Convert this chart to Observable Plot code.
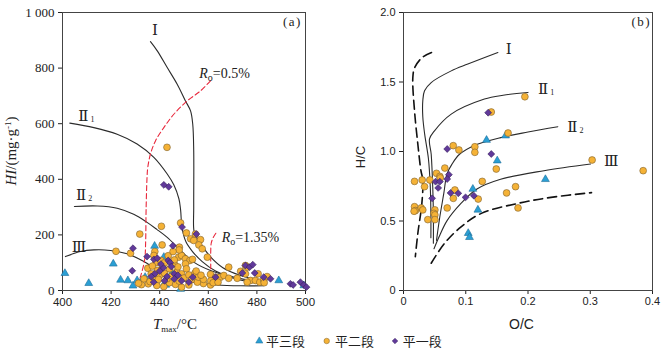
<!DOCTYPE html>
<html><head><meta charset="utf-8">
<script src="https://cdn.jsdelivr.net/npm/d3@7"></script>
<script src="https://cdn.jsdelivr.net/npm/@observablehq/plot@0.6"></script>
<style>
html,body{margin:0;padding:0;background:#fff;}
#wrap{position:relative;width:668px;height:352px;overflow:hidden;background:#fff;}
#pa,#pb,#lg{position:absolute;top:0;}
#pa{left:0;} #pb{left:334px;} #lg{left:0;top:331px;}
</style></head><body>
<div id="wrap"><div id="pa"></div><div id="pb"></div><div id="lg"></div></div>
<script>
// ---------- Panel (a): HI vs Tmax ----------
const aXTicks = [400, 420, 440, 460, 480, 500];
const aYTicks = [0, 200, 400, 600, 800, 1000];
// 平三段 (triangles)
const a3T  = [401,410.8,420.9,423.9,426.9,429,430.7,432,437.9,441.7,442,437,448.6,489,445,447,499.3,434,442.5];
const a3HI = [62,26,96,38,36,17,36,28,160,120,26,40,5,36,62,45,18,48,20];
// 平二段 (circles)
const a2T  = [443,422,431.8,428,440.7,448.6,451,452.7,454,454.7,456.8,456.1,457.5,459.6,441,438,437.6,448.1,447.8,449,448,450.6,452.4,450.6,453.5,
  460.9,463,465,466.4,468.4,468.4,471.9,473.3,475.3,475.3,476,477.4,479.4,481.2,482.8,484.2,480.5,476,483,
  460.9,458,455.5,452,449,446.5,444,441.7,438.8,435.3,432.5,431.3,433.5,436,
  435.1,436.5,437.6,439,440,441,442,443,444,445,446,447,448,449,450,451,452,453,454.5,456,458,438.5,440.5,443.5,445.5,442,446,437,439.5,447.5,455,457,461,462,464];
const a2HI = [515,141,203,134,231,243,207,186,180,203,183,164,150,120,164,140,126,156,120,126,146,114,108,96,112,
  58,48,48,54,84,44,44,69,90,60,84,36,36,30,38,50,60,30,28,
  20,25,30,20,12,22,28,14,18,24,21,26,42,32,
  80,60,48,72,55,90,62,42,78,52,96,68,34,60,45,78,56,38,62,48,40,100,108,125,140,100,110,88,40,85,70,55,35,28,30];
// 平一段 (diamonds)
const a1T  = [441.7,443.7,449.2,455.1,429,428.7,434.8,437.6,439,445.4,443.5,444.3,441.5,440,438,436.5,443,446,447.5,449,452,453.6,463,474,475.3,477,478.3,479.1,482.8,485.6,493.8,494.9,497.9,499.3,500.4,442,446,440.5,444.8,437.5];
const a1HI = [380,373,228,203,152,71,122,112,116,161,108,100,82,70,60,50,50,60,55,35,30,48,48,63,90,84,93,63,48,42,24,20,30,20,12,35,42,95,86,30];
// kerogen type curves (a)
const aI_T   = [436.2,439,443.1,447.2,450.6,452.7,453.6,454,454,454.1,455,457.5,461,466,473,484];
const aI_HI  = [895,862,802,742,682,646,598,503,300,215,195,160,120,82,55,32];
const aII1_T  = [403,412.9,422.5,430.7,437.6,443.1,445.8,447.9,448.6,449.2,450.8,453.5,457.5,463,471,482];
const aII1_HI = [602,586,562,527,479,419,380,330,290,225,175,140,104,70,42,24];
const aII2_T  = [404.9,414.3,422.5,429.3,434.8,438.8,443.1,448.6,454,460.9,470.5,481.5];
const aII2_HI = [302,304,296,274,245,220,191,144,102,72,48,30];
const aIII_T  = [401.2,407.4,412.9,419.8,426.6,433.5,439,445.8,454,463.6,473.3,482.8];
const aIII_HI = [122,140,146,144,132,104,74,44,29,20,17,17];
// Ro iso-lines (a)
const aRo05_T  = [460.9,456.8,451.3,445.8,441.7,438.3,436.2,435.1,434.8,434.4,434.2,433.8,432.1,430.7];
const aRo05_HI = [754,718,682,634,586,539,491,443,409,290,170,110,50,14];
const aRo135_T  = [463.1,462,461.2,461,461,461];
const aRo135_HI = [206,190,170,140,110,78];

// ---------- Panel (b): H/C vs O/C ----------
const bXTicks = [0, 0.1, 0.2, 0.3, 0.4];
const bYTicks = [0, 0.5, 1.0, 1.5, 2.0];
const b3OC = [0.104,0.106,0.164,0.1334,0.1506,0.228,0.1114,0.1195];
const b3HC = [0.412,0.383,1.114,1.082,0.934,0.80,0.73,0.58];
const b2OC = [0.0799,0.089,0.0664,0.053,0.0584,0.0177,0.030,0.0423,0.0338,0.0825,0.080,0.0177,0.0193,0.017,0.0284,0.031,0.0702,0.0504,0.0488,0.0504,0.039,0.0504,0.195,0.141,0.168,0.1146,0.1146,0.149,0.303,0.1265,0.18,0.1656,0.12,0.184,0.385,0.059];
const b2HC = [1.042,1.011,0.881,0.843,0.821,0.785,0.795,0.795,0.747,0.723,0.663,0.603,0.575,0.57,0.594,0.58,0.594,0.58,0.555,0.544,0.51,0.51,1.394,1.284,1.133,1.034,0.994,0.874,0.939,0.785,0.747,0.702,0.658,0.594,0.862,0.81];
const b1OC = [0.0702,0.0729,0.0702,0.0515,0.0584,0.0557,0.046,0.0756,0.088,0.0997,0.136,0.141,0.113];
const b1HC = [1.018,0.833,0.802,0.783,0.783,0.738,0.663,0.702,0.699,0.67,1.279,0.982,0.682];
// evolution curves (b)
const bI_OC   = [0.1516,0.1034,0.0767,0.0445,0.0338,0.031,0.031,0.034,0.040,0.043,0.044,0.044];
const bI_HC   = [1.712,1.629,1.58,1.496,1.437,1.365,1.25,1.125,0.95,0.75,0.55,0.38];
const bII1_OC = [0.20,0.16,0.13,0.0767,0.0498,0.0418,0.0445,0.047,0.048,0.048];
const bII1_HC = [1.425,1.405,1.377,1.269,1.149,1.09,0.98,0.74,0.55,0.34];
const bII2_OC = [0.248,0.2,0.156,0.113,0.09,0.078,0.07,0.0648,0.058,0.053];
const bII2_HC = [1.178,1.14,1.10,1.042,0.98,0.91,0.84,0.70,0.52,0.36];
const bIII_OC = [0.3006,0.2256,0.156,0.118,0.0916,0.070,0.0568,0.049];
const bIII_HC = [0.91,0.862,0.80,0.73,0.623,0.503,0.383,0.30];
const bOuter_OC = [0.045,0.03,0.018,0.015,0.0177,0.023,0.028,0.031,0.0295,0.023,0.019];
const bOuter_HC = [1.712,1.676,1.604,1.532,1.293,1.054,0.862,0.795,0.627,0.41,0.244];
const bLower_OC = [0.0445,0.066,0.093,0.125,0.184,0.237,0.302];
const bLower_HC = [0.196,0.34,0.46,0.555,0.627,0.67,0.704];

// legend
const seriesNames = ["平三段", "平二段", "平一段"];
const colors = {tri:"#2A9FD4", cir:"#F5B236", dia:"#61399A"};
const strokes = {tri:"#1c6d98", cir:"#7d6230", dia:"#36205c"};

const pts = (xs, ys) => xs.map((x, i) => ({x, y: ys[i]}));

function label(svg, x, y, parts, o = {}) {
  const t = d3.select(svg).append("text")
    .attr("x", x).attr("y", y)
    .attr("font-family", o.font || "Liberation Serif, DejaVu Serif, serif")
    .attr("font-size", o.size || 14)
    .attr("fill", o.fill || "#222")
    .attr("text-anchor", o.anchor || "start");
  if (o.rotate) t.attr("transform", `rotate(${o.rotate},${x},${y})`);
  let shift = 0;
  for (const p of parts) {
    const s = t.append("tspan").text(p.t);
    const target = p.sub ? (p.shift ?? 4) : p.sup ? -(p.shift ?? 5) : 0;
    if (target !== shift) { s.attr("dy", target - shift); shift = target; }
    if (p.dx) s.attr("dx", p.dx);
    if (p.italic) s.attr("font-style", "italic");
    if (p.size) s.attr("font-size", p.size);
  }
  return t;
}
function styleTicks(svg, axis, font, size) {
  d3.select(svg).selectAll(`g[aria-label^="${axis}-axis"] text`)
    .attr("font-family", font).attr("font-size", size).attr("fill", "#222");
}

const lineStyle = {x: "x", y: "y", curve: "catmull-rom", stroke: "#2b2b2b", strokeWidth: 1.1};

// ----- Panel a -----
const ca = Plot.plot({
  width: 334, height: 331,
  marginLeft: 62, marginRight: 29, marginTop: 12, marginBottom: 41,
  style: {background: "transparent", color: "#222", fontSize: "12px", fontFamily: "Liberation Sans, sans-serif", overflow: "visible"},
  x: {domain: [400, 500], ticks: aXTicks, tickSize: 4, tickPadding: 3, label: null},
  y: {domain: [0, 1000], ticks: aYTicks, tickSize: 4, tickPadding: 4, label: null,
      tickFormat: d => d === 1000 ? "1 000" : String(d)},
  marks: [
    Plot.frame({stroke: "#444", strokeWidth: 1}),
    Plot.line(pts(aI_T, aI_HI), lineStyle),
    Plot.line(pts(aII1_T, aII1_HI), lineStyle),
    Plot.line(pts(aII2_T, aII2_HI), lineStyle),
    Plot.line(pts(aIII_T, aIII_HI), lineStyle),
    Plot.line(pts(aRo05_T, aRo05_HI), {x: "x", y: "y", curve: "catmull-rom", stroke: "#E8283C", strokeWidth: 1.1, strokeDasharray: "5,3"}),
    Plot.line(pts(aRo135_T, aRo135_HI), {x: "x", y: "y", curve: "catmull-rom", stroke: "#E8283C", strokeWidth: 1.1, strokeDasharray: "5,3"}),
    Plot.dot(pts(a3T, a3HI), {x: "x", y: "y", symbol: "triangle", r: 2.9, fill: colors.tri, stroke: strokes.tri, strokeWidth: 0.6}),
    Plot.dot(pts(a2T, a2HI), {x: "x", y: "y", symbol: "circle", r: 3.4, fill: colors.cir, stroke: strokes.cir, strokeWidth: 0.6}),
    Plot.dot(pts(a1T, a1HI), {x: "x", y: "y", symbol: "diamond2", r: 3.1, fill: colors.dia, stroke: strokes.dia, strokeWidth: 0.6})
  ]
});
document.getElementById("pa").appendChild(ca);
styleTicks(ca, "y", "Liberation Serif, serif", 13);
styleTicks(ca, "x", "Liberation Sans, sans-serif", 11.5);
{
  const X = ca.scale("x"), Y = ca.scale("y");
  const px = v => X.apply(v), py = v => Y.apply(v);
  const roman = "Liberation Serif, DejaVu Serif, Noto Sans CJK SC, serif";
  label(ca, px(437), py(916), [{t: "Ⅰ"}], {font: roman, size: 15});
  label(ca, px(406.7), py(608), [{t: "Ⅱ"}, {t: "1", sub: true, shift: 1, size: 8, dx: 2}], {font: roman, size: 15});
  label(ca, px(405.8), py(323), [{t: "Ⅱ"}, {t: "2", sub: true, shift: 1, size: 8, dx: 2}], {font: roman, size: 15});
  label(ca, px(404), py(136), [{t: "Ⅲ"}], {font: roman, size: 15});
  label(ca, px(456.5), py(764), [{t: "R", italic: true}, {t: "o", sub: true, size: 10, shift: 3}, {t: "=0.5%"}], {size: 14});
  label(ca, px(465.7), py(173), [{t: "R", italic: true}, {t: "o", sub: true, size: 10, shift: 3}, {t: "=1.35%"}], {size: 14});
  label(ca, px(490.9), py(948), [{t: "(a)"}], {size: 13}).attr("letter-spacing", 1.5);
  label(ca, 16, 151, [{t: "HI", italic: true}, {t: "/(mg·g"}, {t: "-1", sup: true, size: 9}, {t: ")"}], {rotate: -90, anchor: "middle", size: 15});
  label(ca, 175, 329, [{t: "T", italic: true}, {t: "max", sub: true, size: 9, shift: 3}, {t: "/°C"}], {anchor: "middle", size: 15});
}

// ----- Panel b -----
const cb = Plot.plot({
  width: 334, height: 331,
  marginLeft: 69, marginRight: 16, marginTop: 12, marginBottom: 41,
  style: {background: "transparent", color: "#222", fontSize: "11px", fontFamily: "Liberation Sans, sans-serif", overflow: "visible"},
  x: {domain: [0, 0.4], ticks: bXTicks, tickSize: 4, tickPadding: 3, label: null,
      tickFormat: d => d === 0 ? "0" : d.toFixed(1)},
  y: {domain: [0, 2], ticks: bYTicks, tickSize: 4, tickPadding: 4, label: null,
      tickFormat: d => d === 0 ? "0" : d.toFixed(1)},
  marks: [
    Plot.frame({stroke: "#444", strokeWidth: 1}),
    Plot.line(pts(bI_OC, bI_HC), lineStyle),
    Plot.line(pts(bII1_OC, bII1_HC), lineStyle),
    Plot.line(pts(bII2_OC, bII2_HC), lineStyle),
    Plot.line(pts(bIII_OC, bIII_HC), lineStyle),
    Plot.line(pts(bOuter_OC, bOuter_HC), {x: "x", y: "y", curve: "catmull-rom", stroke: "#111", strokeWidth: 1.6, strokeDasharray: "9,5"}),
    Plot.line(pts(bLower_OC, bLower_HC), {x: "x", y: "y", curve: "catmull-rom", stroke: "#111", strokeWidth: 1.6, strokeDasharray: "9,5"}),
    Plot.dot(pts(b3OC, b3HC), {x: "x", y: "y", symbol: "triangle", r: 2.9, fill: colors.tri, stroke: strokes.tri, strokeWidth: 0.6}),
    Plot.dot(pts(b2OC, b2HC), {x: "x", y: "y", symbol: "circle", r: 3.4, fill: colors.cir, stroke: strokes.cir, strokeWidth: 0.6}),
    Plot.dot(pts(b1OC, b1HC), {x: "x", y: "y", symbol: "diamond2", r: 3.1, fill: colors.dia, stroke: strokes.dia, strokeWidth: 0.6})
  ]
});
document.getElementById("pb").appendChild(cb);
styleTicks(cb, "y", "Liberation Sans, sans-serif", 11);
styleTicks(cb, "x", "Liberation Sans, sans-serif", 11);
{
  const X = cb.scale("x"), Y = cb.scale("y");
  const px = v => X.apply(v), py = v => Y.apply(v);
  const roman = "Liberation Serif, DejaVu Serif, Noto Sans CJK SC, serif";
  label(cb, px(0.165), py(1.70), [{t: "Ⅰ"}], {font: roman, size: 15});
  label(cb, px(0.217), py(1.408), [{t: "Ⅱ"}, {t: "1", sub: true, shift: 1, size: 8, dx: 2}], {font: roman, size: 15});
  label(cb, px(0.264), py(1.137), [{t: "Ⅱ"}, {t: "2", sub: true, shift: 1, size: 8, dx: 2}], {font: roman, size: 15});
  label(cb, px(0.323), py(0.893), [{t: "Ⅲ"}], {font: roman, size: 15});
  label(cb, px(0.367), py(1.897), [{t: "(b)"}], {size: 13}).attr("letter-spacing", 1.5);
  label(cb, 31, 157, [{t: "H/C"}], {rotate: -90, anchor: "middle", size: 13, font: "Liberation Sans, sans-serif"});
  label(cb, 187.5, 329, [{t: "O/C"}], {anchor: "middle", size: 14, font: "Liberation Sans, sans-serif"});
}

// ----- Legend -----
{
  const lg = d3.select("#lg").append("svg").attr("width", 668).attr("height", 21);
  const items = [
    {name: seriesNames[0], sym: d3.symbolTriangle, size: 22, k: "tri", cx: 259.3, tx: 266},
    {name: seriesNames[1], sym: d3.symbolCircle, size: 24, k: "cir", cx: 326.7, tx: 335},
    {name: seriesNames[2], sym: d3.symbolDiamond2, size: 20, k: "dia", cx: 395, tx: 402.7}
  ];
  for (const it of items) {
    lg.append("path").attr("d", d3.symbol(it.sym, it.size)())
      .attr("transform", `translate(${it.cx},10)`)
      .attr("fill", colors[it.k]).attr("stroke", strokes[it.k]).attr("stroke-width", 0.5);
    lg.append("text").attr("x", it.tx).attr("y", 15)
      .attr("font-family", "Noto Sans CJK SC, sans-serif").attr("font-size", 13)
      .attr("fill", "#222").text(it.name);
  }
}
</script></body></html>
